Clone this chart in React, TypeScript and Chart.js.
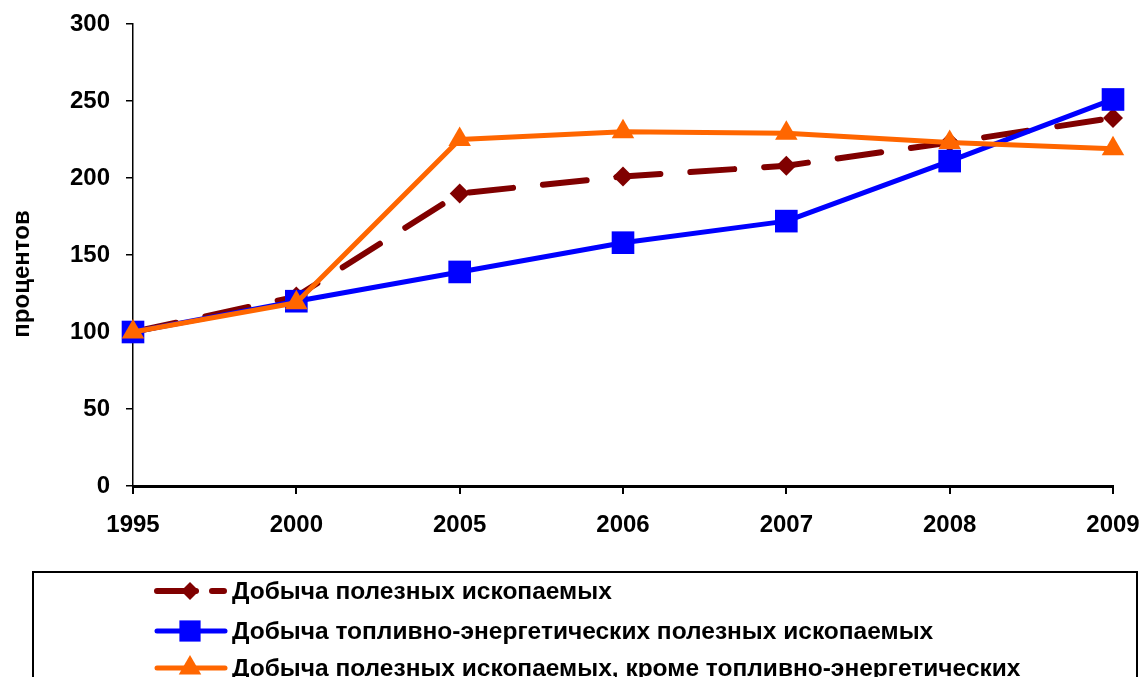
import { useEffect, useRef } from 'react';
import { Chart, registerables } from 'chart.js';

Chart.register(...registerables);

const years = ['1995', '2000', '2005', '2006', '2007', '2008', '2009'];
const miningTotal = [100, 123, 190, 201, 208, 223, 239];
const miningFuel = [100, 120, 139, 158, 172, 211, 251];
const miningNonFuel = [100, 119, 225, 230, 229, 223, 219];
const seriesNames = [
  'Добыча полезных ископаемых',
  'Добыча топливно-энергетических полезных ископаемых',
  'Добыча полезных ископаемых, кроме топливно-энергетических',
];
const yTitle = 'процентов';
const yMin = 0;
const yMax = 300;
const yStep = 50;

const FONT = 'Liberation Sans, Arial, sans-serif';
const RED = '#800000';
const BLUE = '#0000FF';
const ORANGE = '#FF6600';

function drawMarker(ctx: CanvasRenderingContext2D, style: string, x: number, y: number, r: number, color: string) {
  ctx.save();
  ctx.fillStyle = color;
  ctx.beginPath();
  if (style === 'rectRot') {
    ctx.moveTo(x, y - r);
    ctx.lineTo(x + r, y);
    ctx.lineTo(x, y + r);
    ctx.lineTo(x - r, y);
  } else if (style === 'rect') {
    const s = r * Math.SQRT1_2;
    ctx.rect(x - s, y - s, 2 * s, 2 * s);
  } else {
    const h = (r * Math.sqrt(3)) / 2;
    ctx.moveTo(x, y - r);
    ctx.lineTo(x + h, y + r / 2);
    ctx.lineTo(x - h, y + r / 2);
  }
  ctx.closePath();
  ctx.fill();
  ctx.restore();
}

const decorPlugin = {
  id: 'decor',
  afterDraw(chart: any) {
    const ctx: CanvasRenderingContext2D = chart.ctx;
    ctx.save();
    ctx.translate(22, 274);
    ctx.rotate(-Math.PI / 2);
    ctx.fillStyle = '#000';
    ctx.font = `bold 24px ${FONT}`;
    ctx.textAlign = 'center';
    ctx.textBaseline = 'middle';
    ctx.fillText(yTitle, 0, 0);
    ctx.restore();

    ctx.save();
    ctx.strokeStyle = '#000';
    ctx.lineWidth = 2;
    ctx.strokeRect(33, 572, 1104, 200);
    const rows = [591, 631, 668];
    chart.data.datasets.forEach((ds: any, i: number) => {
      const y = rows[i];
      ctx.save();
      ctx.strokeStyle = ds.borderColor;
      ctx.lineWidth = ds.borderWidth;
      ctx.lineCap = 'round';
      ctx.beginPath();
      if (ds.borderDash && ds.borderDash.length) {
        ctx.moveTo(157, y);
        ctx.lineTo(196, y);
        ctx.moveTo(212, y);
        ctx.lineTo(224, y);
      } else {
        ctx.moveTo(157, y);
        ctx.lineTo(225, y);
      }
      ctx.stroke();
      ctx.restore();
      drawMarker(ctx, ds.pointStyle, 190, y, ds.legendRadius, ds.pointBackgroundColor);
      ctx.fillStyle = '#000';
      ctx.font = `bold 24.5px ${FONT}`;
      ctx.textAlign = 'left';
      ctx.textBaseline = 'middle';
      ctx.fillText(seriesNames[i], 232, y + 1);
    });
    ctx.restore();
  },
};

export default function App() {
  const ref = useRef<HTMLCanvasElement>(null);
  useEffect(() => {
    const tickFont = { family: FONT, size: 24, weight: 'bold' as const };
    const chart = new Chart(ref.current as HTMLCanvasElement, {
      type: 'line',
      data: {
        labels: years,
        datasets: [
          {
            label: seriesNames[0],
            data: miningTotal,
            borderColor: RED,
            backgroundColor: RED,
            borderWidth: 6,
            borderDash: [44, 30],
            borderCapStyle: 'round',
            pointStyle: 'rectRot',
            pointRadius: 10,
            pointBackgroundColor: RED,
            pointBorderColor: RED,
            pointBorderWidth: 0,
            order: 2,
            legendRadius: 9,
          } as any,
          {
            label: seriesNames[1],
            data: miningFuel,
            borderColor: BLUE,
            backgroundColor: BLUE,
            borderWidth: 5,
            pointStyle: 'rect',
            pointRadius: 16,
            pointBackgroundColor: BLUE,
            pointBorderColor: BLUE,
            pointBorderWidth: 0,
            order: 1,
            legendRadius: 15,
          } as any,
          {
            label: seriesNames[2],
            data: miningNonFuel,
            borderColor: ORANGE,
            backgroundColor: ORANGE,
            borderWidth: 5,
            pointStyle: 'triangle',
            pointRadius: 13,
            pointBackgroundColor: ORANGE,
            pointBorderColor: ORANGE,
            pointBorderWidth: 0,
            order: 0,
            legendRadius: 13,
          } as any,
        ],
      },
      options: {
        responsive: false,
        animation: false,
        layout: { padding: { top: 24, right: 30, left: 0, bottom: 0 } },
        elements: { line: { tension: 0, borderJoinStyle: 'round' } },
        plugins: { legend: { display: false }, tooltip: { enabled: false } },
        scales: {
          x: {
            offset: false,
            grid: { drawOnChartArea: false, drawTicks: true, tickLength: 8, color: '#000', lineWidth: 2 },
            border: { display: true, color: '#000', width: 3 },
            ticks: { font: tickFont, color: '#000', padding: 17, maxRotation: 0, autoSkip: false },
            afterFit: (s: any) => {
              s.height = 191;
              s.paddingLeft = 0;
              s.paddingRight = 0;
            },
          },
          y: {
            min: yMin,
            max: yMax,
            grid: { drawOnChartArea: false, drawTicks: true, tickLength: 7, color: '#000', lineWidth: 1.5 },
            border: { display: true, color: '#000', width: 1.5 },
            ticks: { stepSize: yStep, font: tickFont, color: '#000', padding: 16 },
            afterFit: (s: any) => {
              s.width = 133;
              s.paddingTop = 0;
              s.paddingBottom = 0;
            },
          },
        },
      },
      plugins: [decorPlugin],
    });
    return () => chart.destroy();
  }, []);
  return (
    <div style={{ position: 'absolute', left: 0, top: 0, width: 1143, height: 677, overflow: 'hidden', background: '#fff' }}>
      <canvas ref={ref} width={1143} height={677} style={{ display: 'block' }} />
    </div>
  );
}
